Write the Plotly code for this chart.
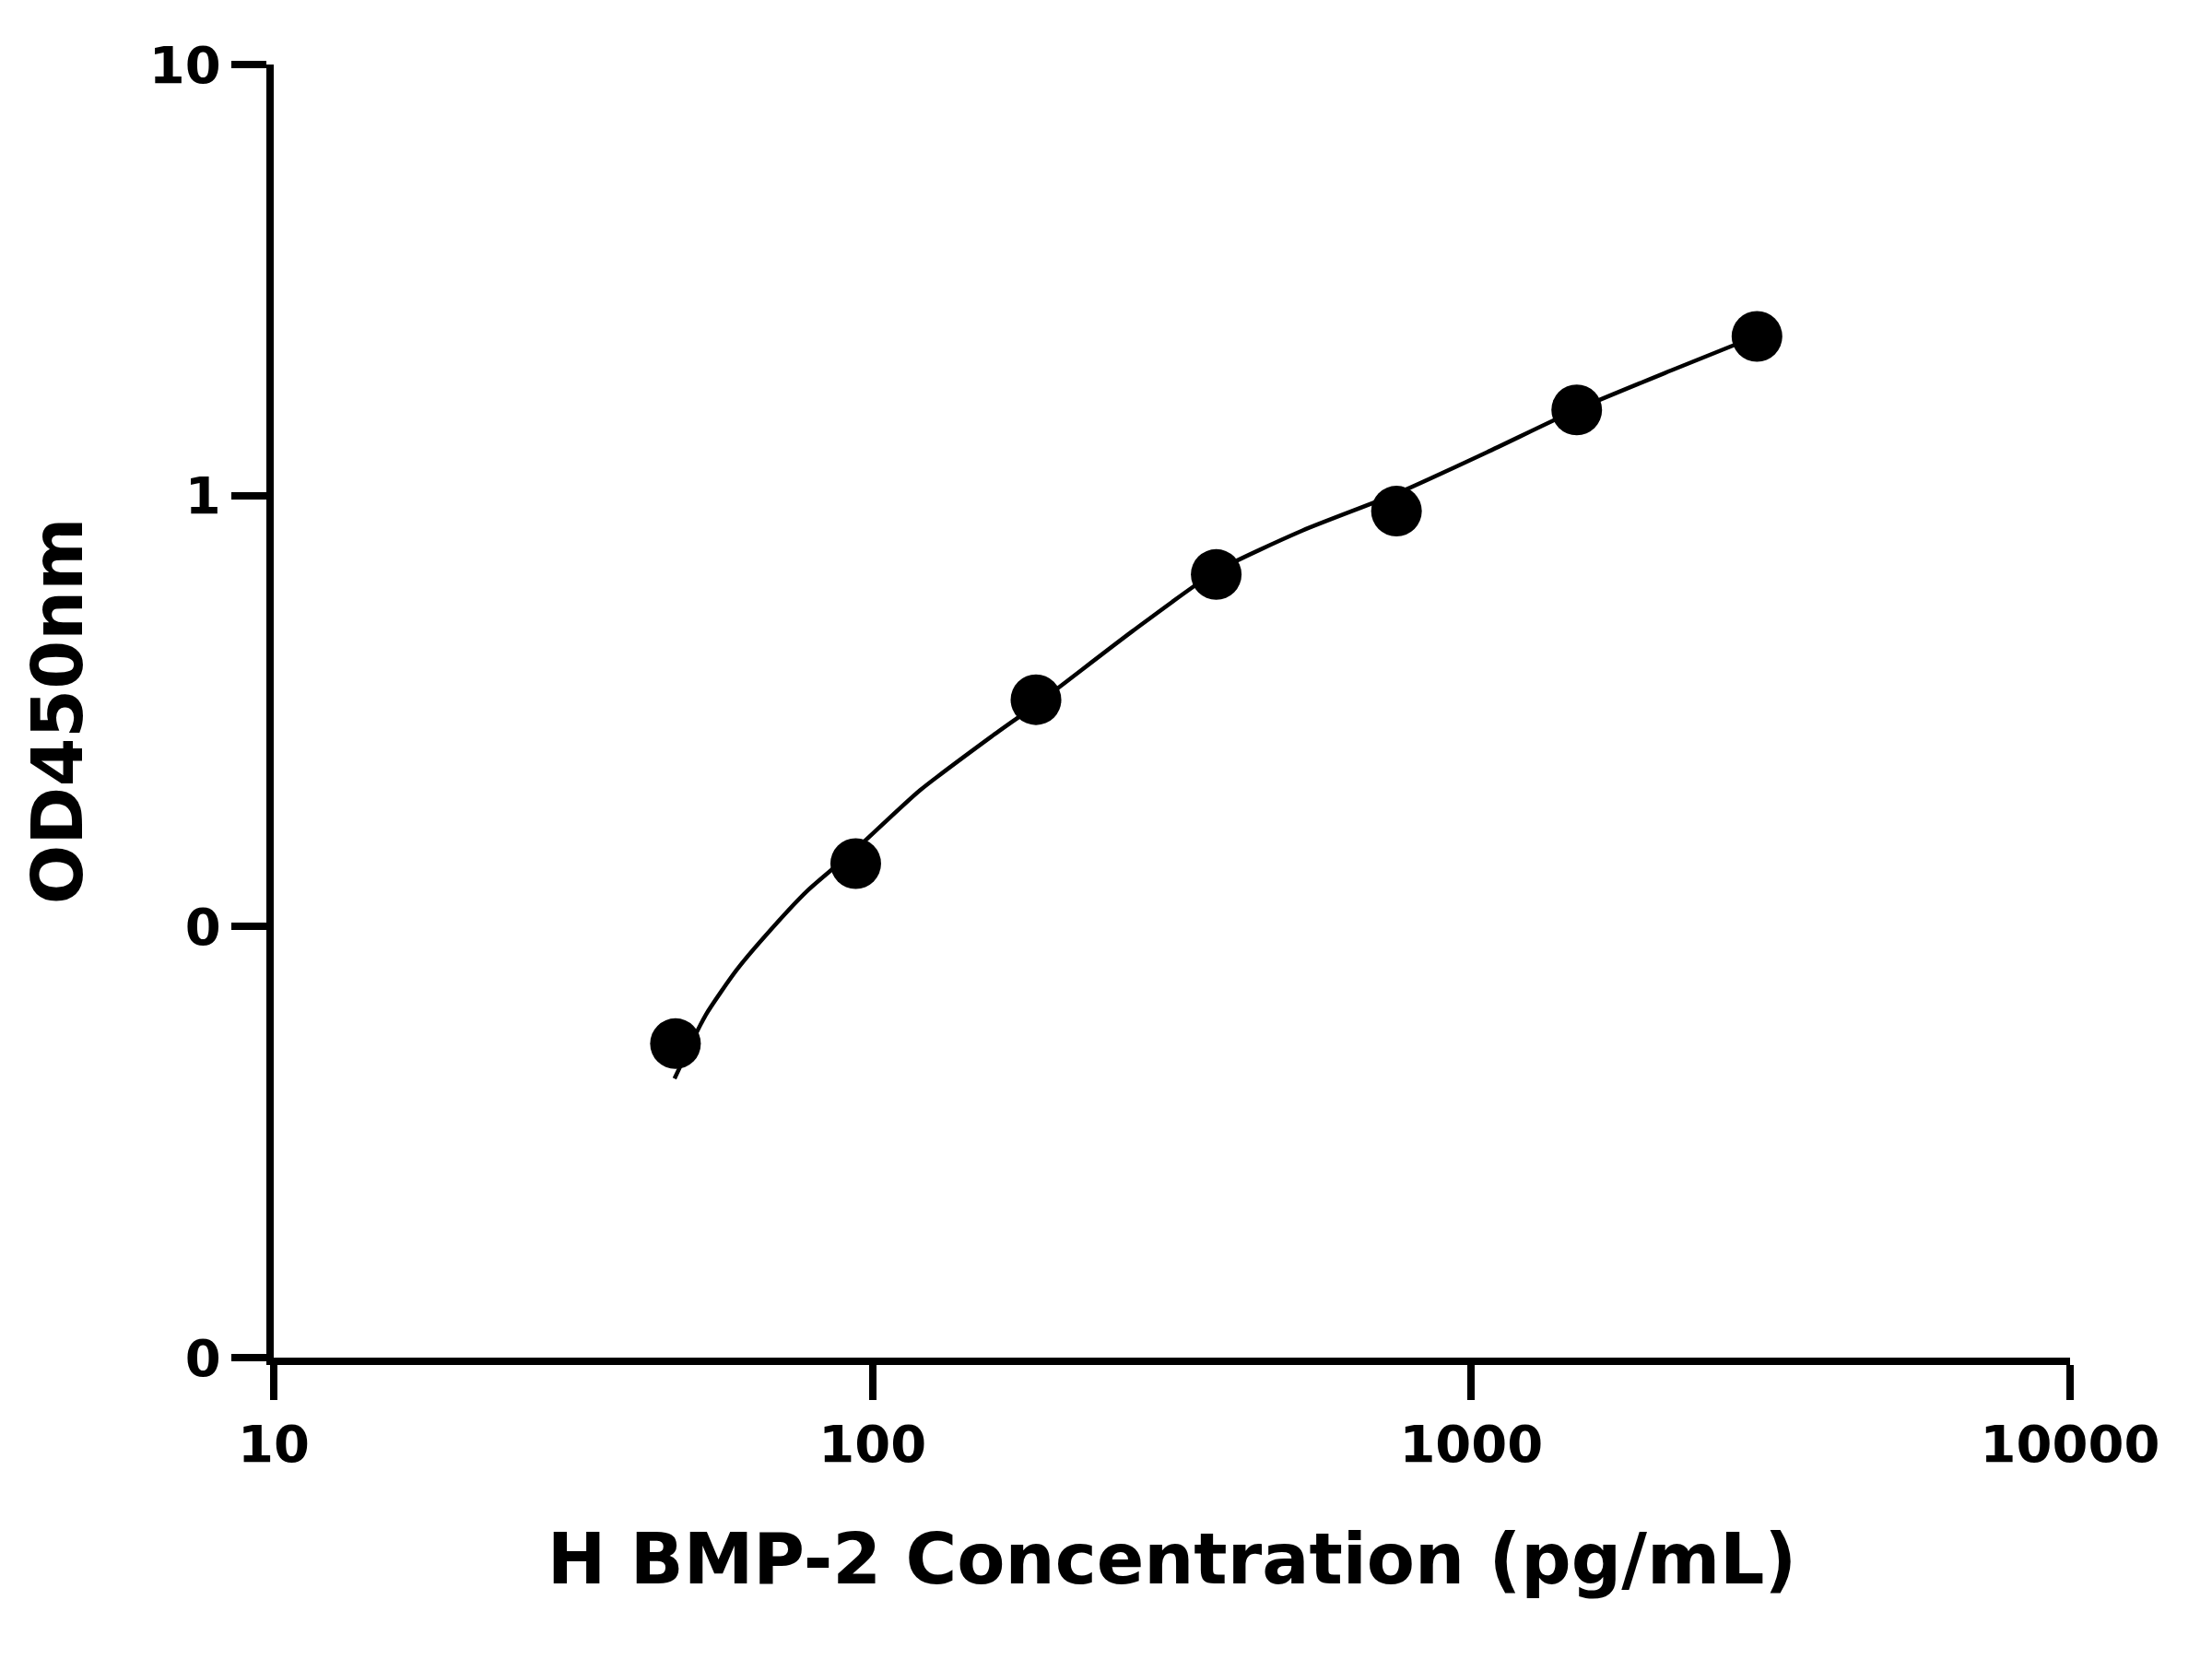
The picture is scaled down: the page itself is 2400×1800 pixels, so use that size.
import plotly.graph_objects as go

conc = [46.875, 93.75, 187.5, 375, 750, 1500, 3000]
od = [0.0535, 0.140, 0.336, 0.656, 0.92, 1.58, 2.34]
curve_x = [46.7, 52.6, 59.3, 66.1, 77.8, 93.7, 120, 158, 188, 272, 375, 523, 750, 1062, 1496, 2155, 2985]
curve_y = [0.0444, 0.0622, 0.0793, 0.0949, 0.121, 0.151, 0.207, 0.276, 0.328, 0.485, 0.667, 0.83, 1.01, 1.26, 1.58, 1.95, 2.34]
x_ticks = [10, 100, 1000, 10000]
x_text = ["10", "100", "1000", "10000"]
y_ticks = [0.01, 0.1, 1, 10]
y_text = ["0", "0", "1", "10"]

fig = go.Figure()
fig.add_trace(go.Scatter(x=curve_x, y=curve_y, mode="lines",
                         line=dict(color="black", width=4.5, shape="spline", smoothing=0.6), showlegend=False))
fig.add_trace(go.Scatter(x=conc, y=od, mode="markers", marker=dict(color="black", size=55), showlegend=False))

font = dict(family="DejaVu Sans", color="black")
fig.update_layout(
    width=2400, height=1800, paper_bgcolor="white", plot_bgcolor="white",
    margin=dict(l=289, r=162, t=62, b=335),
    font=font,
)
fig.update_xaxes(type="log", range=[1, 4], tickvals=x_ticks, ticktext=[f"<b>{t}</b>" for t in x_text],
                 showline=True, linecolor="black", linewidth=8, ticks="outside", ticklen=38, tickwidth=8,
                 tickcolor="black", showgrid=False, zeroline=False, tickfont=dict(size=56),
                 title=dict(text="<b>H BMP-2 Concentration (pg/mL)</b>", font=dict(size=76), standoff=70))
fig.update_yaxes(type="log", range=[-2, 1], tickvals=y_ticks, ticktext=[f"<b>{t}</b>" for t in y_text],
                 showline=True, linecolor="black", linewidth=8, ticks="outside", ticklen=38, tickwidth=8,
                 tickcolor="black", showgrid=False, zeroline=False, tickfont=dict(size=56),
                 title=dict(text="<b>OD450nm</b>", font=dict(size=76), standoff=50))
fig.write_html("out.html")
